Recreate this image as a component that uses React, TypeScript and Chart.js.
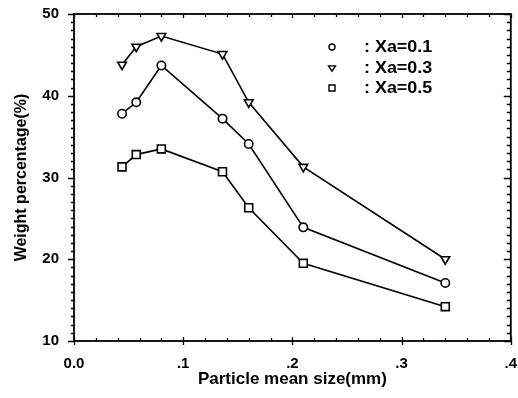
import React, { useEffect, useRef } from 'react';
import { Chart, registerables } from 'chart.js';

Chart.register(...registerables);

// ---- data ----
const sizes = [0.044, 0.057, 0.08, 0.136, 0.16, 0.21, 0.34];
const xa01 = [37.8, 39.2, 43.7, 37.2, 34.1, 23.9, 17.1];
const xa03 = [43.8, 46.0, 47.3, 45.1, 39.2, 31.3, 20.0];
const xa05 = [31.3, 32.8, 33.5, 30.7, 26.3, 19.5, 14.2];
const seriesLabels = [': Xa=0.1', ': Xa=0.3', ': Xa=0.5'];
const xTickValues = [0, 0.1, 0.2, 0.3, 0.4];
const xTickLabels = ['0.0', '.1', '.2', '.3', '.4'];
const yTickValues = [10, 20, 30, 40, 50];

const FONT = "'Liberation Sans', Arial, sans-serif";

const framePlugin = {
  id: 'frameTicks',
  afterDatasetsDraw(chart: any) {
    const { ctx, chartArea: a, scales } = chart;
    const xs = scales.x;
    const ys = scales.y;
    ctx.save();
    ctx.strokeStyle = '#000';
    ctx.lineWidth = 1.8;
    ctx.strokeRect(a.left, a.top, a.right - a.left, a.bottom - a.top);
    ctx.lineWidth = 1.3;
    ctx.beginPath();
    // x minor every 0.02, major every 0.1
    for (let i = 0; i <= 20; i++) {
      const v = i * 0.02;
      const px = Math.round(xs.getPixelForValue(v)) + 0.5;
      const major = i % 5 === 0;
      if (major) {
        ctx.moveTo(px, a.bottom + 4);
        ctx.lineTo(px, a.bottom - 4);
      } else {
        ctx.moveTo(px, a.bottom);
        ctx.lineTo(px, a.bottom - 3);
      }
      ctx.moveTo(px, a.top);
      ctx.lineTo(px, a.top + (major ? 4 : 3));
    }
    // y minor every 1, major every 10
    for (let v = 10; v <= 50; v++) {
      const py = Math.round(ys.getPixelForValue(v)) + 0.5;
      const major = v % 10 === 0;
      ctx.moveTo(a.left - (major ? 6 : 3), py);
      ctx.lineTo(a.left + 1, py);
      ctx.moveTo(a.right, py);
      ctx.lineTo(a.right - (major ? 7 : 4), py);
    }
    ctx.stroke();
    ctx.restore();
  },
};

function drawMarker(ctx: CanvasRenderingContext2D, style: string, x: number, y: number, r: number) {
  ctx.beginPath();
  if (style === 'circle') {
    ctx.arc(x, y, r, 0, Math.PI * 2);
  } else if (style === 'triangle') {
    ctx.moveTo(x - r, y - r * 0.6);
    ctx.lineTo(x + r, y - r * 0.6);
    ctx.lineTo(x, y + r * 0.9);
    ctx.closePath();
  } else {
    ctx.rect(x - r, y - r, 2 * r, 2 * r);
  }
  ctx.fillStyle = '#fff';
  ctx.fill();
  ctx.stroke();
}

const legendPlugin = {
  id: 'innerLegend',
  afterDraw(chart: any) {
    const { ctx } = chart;
    const styles = ['circle', 'triangle', 'rect'];
    const sizesR = [3, 3.5, 3];
    const rowY = [47, 68, 88];
    ctx.save();
    ctx.strokeStyle = '#000';
    ctx.lineWidth = 1.4;
    chart.data.datasets.forEach((ds: any, i: number) => {
      drawMarker(ctx, styles[i], 332, rowY[i], sizesR[i]);
      ctx.save();
      ctx.translate(364, rowY[i] + 1);
      ctx.scale(1.12, 1);
      ctx.font = `bold 16px ${FONT}`;
      ctx.fillStyle = '#000';
      ctx.textBaseline = 'middle';
      ctx.textAlign = 'left';
      ctx.fillText(ds.label, 0, 0);
      ctx.restore();
    });
    ctx.restore();
  },
};

function makeData(values: number[]) {
  return sizes.map((x, i) => ({ x, y: values[i] }));
}

export default function App() {
  const ref = useRef<HTMLCanvasElement>(null);
  useEffect(() => {
    document.body.style.margin = '0';
    const common = {
      showLine: true,
      borderColor: '#000',
      borderWidth: 1.6,
      pointBackgroundColor: '#fff',
      pointBorderColor: '#000',
      pointBorderWidth: 1.6,
      tension: 0,
    };
    const chart = new Chart(ref.current!, {
      type: 'scatter',
      data: {
        datasets: [
          { ...common, label: seriesLabels[0], data: makeData(xa01), pointStyle: 'circle', pointRadius: 4.2 },
          { ...common, label: seriesLabels[1], data: makeData(xa03), pointStyle: 'triangle', pointRotation: 180, pointRadius: 5 },
          { ...common, label: seriesLabels[2], data: makeData(xa05), pointStyle: 'rect', pointRadius: 5.6 },
        ],
      },
      options: {
        responsive: false,
        animation: false,
        events: [],
        layout: { padding: { top: 14, right: 6, bottom: 0, left: 0 } },
        plugins: { legend: { display: false }, tooltip: { enabled: false } },
        scales: {
          x: {
            type: 'linear',
            min: 0,
            max: 0.4,
            grid: { display: false, drawTicks: false },
            border: { display: false },
            afterBuildTicks: (s: any) => {
              s.ticks = xTickValues.map((v) => ({ value: v }));
            },
            ticks: {
              padding: 14,
              color: '#000',
              maxRotation: 0,
              autoSkip: false,
              font: { family: FONT, size: 15, weight: 'bold' },
              callback: (v: any) => {
                const idx = xTickValues.findIndex((t) => Math.abs(t - Number(v)) < 1e-6);
                return idx >= 0 ? xTickLabels[idx] : '';
              },
            },
            title: {
              display: true,
              text: 'Particle mean size(mm)',
              color: '#000',
              font: { family: FONT, size: 17, weight: 'bold' },
              padding: { top: 0, bottom: 8 },
            },
            afterFit: (s: any) => {
              s.height = 57;
              s.paddingLeft = 0;
              s.paddingRight = 0;
            },
          },
          y: {
            type: 'linear',
            min: 10,
            max: 50,
            grid: { display: false, drawTicks: false },
            border: { display: false },
            afterBuildTicks: (s: any) => {
              s.ticks = yTickValues.map((v) => ({ value: v }));
            },
            ticks: {
              padding: 15,
              color: '#000',
              font: { family: FONT, size: 15, weight: 'bold' },
            },
            title: {
              display: true,
              text: 'Weight percentage(%)',
              color: '#000',
              font: { family: FONT, size: 16, weight: 'bold' },
              padding: { top: 12, bottom: 0 },
            },
            afterFit: (s: any) => {
              s.width = 74;
              s.paddingTop = 0;
              s.paddingBottom = 0;
            },
          },
        },
      } as any,
      plugins: [framePlugin, legendPlugin],
    });
    return () => chart.destroy();
  }, []);
  return (
    <div style={{ width: 518, height: 398, background: '#fff' }}>
      <canvas ref={ref} width={518} height={398} />
    </div>
  );
}
